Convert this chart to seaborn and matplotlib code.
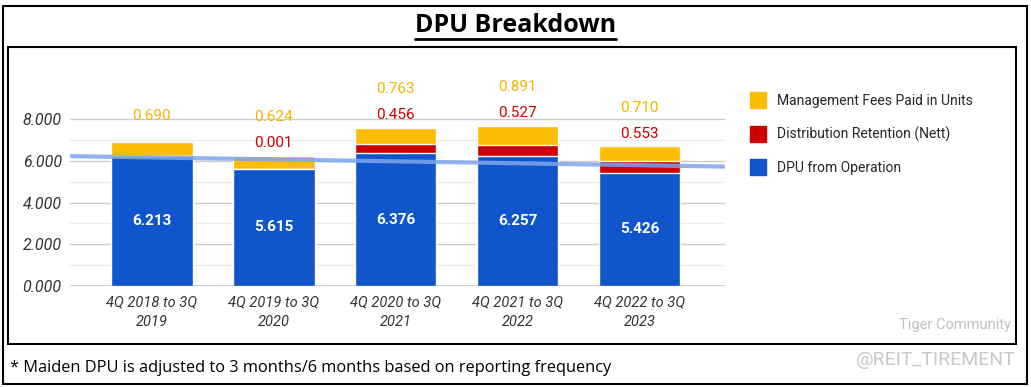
import seaborn as sns
import matplotlib.pyplot as plt
import numpy as np
import pandas as pd
from matplotlib.patches import Rectangle
from matplotlib.lines import Line2D

# values
periods = ["4Q 2018 to 3Q\n2019", "4Q 2019 to 3Q\n2020", "4Q 2020 to 3Q\n2021",
           "4Q 2021 to 3Q\n2022", "4Q 2022 to 3Q\n2023"]
dpu_operation = [6.213, 5.615, 6.376, 6.257, 5.426]
dist_retention = [0.0, 0.001, 0.456, 0.527, 0.553]
mgmt_fees = [0.690, 0.624, 0.763, 0.891, 0.710]

BLUE = "#1155cc"
RED = "#cc0000"
YELLOW = "#fbbc04"

sns.set_style("white")
plt.rcParams["font.family"] = ["Roboto", "DejaVu Sans"]

df = pd.DataFrame({"period": periods, "op": dpu_operation,
                   "ret": dist_retention, "fee": mgmt_fees})
df["op_ret"] = df["op"] + df["ret"]
df["total"] = df["op_ret"] + df["fee"]

fig = plt.figure(figsize=(10.31, 3.87), dpi=100)
ax = fig.add_axes([0.068, 0.261, 0.635, 0.568])

w = 0.67
sns.barplot(data=df, x="period", y="total", color=YELLOW, saturation=1, width=w, ax=ax, zorder=3)
sns.barplot(data=df, x="period", y="op_ret", color=RED, saturation=1, width=w, ax=ax, zorder=3)
sns.barplot(data=df, x="period", y="op", color=BLUE, saturation=1, width=w, ax=ax, zorder=3)

# trend line of the operating DPU
ax.set_xlim(-0.67, 4.7)
xs = np.arange(len(periods))
k, b = np.polyfit(xs, dpu_operation, 1)
xl = np.array(ax.get_xlim())
ax.plot(xl, k * xl + b, color="#7ea6ee", lw=3, alpha=0.85, zorder=4, solid_capstyle="butt")

ax.set_ylim(0, 10.54)
ax.set_yticks([0, 2, 4, 6, 8])
ax.set_yticks([1, 3, 5, 7], minor=True)
ax.set_yticklabels([f"{v:.3f}" for v in [0, 2, 4, 6, 8]], fontstyle="italic",
                   fontsize=11.5, color="#333333")
ax.grid(axis="y", which="major", color="#cccccc", lw=1, zorder=0)
ax.grid(axis="y", which="minor", color="#ececec", lw=1, zorder=0)
ax.tick_params(axis="y", length=0, pad=6)
ax.tick_params(axis="x", length=0, pad=7)
for lab in ax.get_xticklabels():
    lab.set_fontstyle("italic")
    lab.set_fontsize(10.5)
    lab.set_color("#333333")
    lab.set_linespacing(1.45)
ax.set_xlabel("")
ax.set_ylabel("")
ax.axhline(0, color="#333333", lw=1, zorder=5)
sns.despine(ax=ax, left=True, bottom=True)

# value labels
for i in range(len(periods)):
    ax.text(i, dpu_operation[i] / 2, f"{dpu_operation[i]:.3f}", ha="center", va="center",
            color="white", fontsize=11, fontweight="bold", zorder=6)
    top = df["total"][i]
    if dist_retention[i] > 0:
        ax.annotate(f"{dist_retention[i]:.3f}", (i, top), xytext=(0, 9),
                    textcoords="offset points", ha="center", va="center",
                    color=RED, fontsize=11, zorder=6)
        yoff = 28
    else:
        yoff = 19
    ax.annotate(f"{mgmt_fees[i]:.3f}", (i, top), xytext=(0, yoff),
                textcoords="offset points", ha="center", va="center",
                color="#f4b400", fontsize=11, zorder=6)

# legend
handles = [Line2D([], [], ls="", marker="s", markersize=12, color=c)
           for c in [YELLOW, RED, BLUE]]
fig.legend(handles, ["Management Fees Paid in Units", "Distribution Retention (Nett)",
                     "DPU from Operation"],
           loc="upper left", bbox_to_anchor=(0.715, 0.79), frameon=False,
           fontsize=10, labelspacing=1.35, handletextpad=0.75, handlelength=1.2)

# title, boxes and notes
t = fig.text(0.5, 0.935, "DPU Breakdown", ha="center", va="center", fontsize=18,
             fontweight="bold", family=["Open Sans", "DejaVu Sans"], color="black")
fig.canvas.draw()
bb = t.get_window_extent().transformed(fig.transFigure.inverted())
fig.add_artist(Line2D([bb.x0, bb.x1], [bb.y0 - 0.004, bb.y0 - 0.004],
                      color="black", lw=2))

fig.add_artist(Rectangle((3 / 1031, 3 / 387), 1024 / 1031, 378 / 387,
                         transform=fig.transFigure, fill=False, ec="black", lw=1.5))
fig.add_artist(Rectangle((8 / 1031, 43 / 387), 1008 / 1031, 297 / 387,
                         transform=fig.transFigure, fill=False, ec="black", lw=1.5))

fig.text(10 / 1031, 1 - 368 / 387, "* Maiden DPU is adjusted to 3 months/6 months based on reporting frequency",
         ha="left", va="center", fontsize=11.8, family=["Open Sans", "DejaVu Sans"],
         color="black")

fig.text(955 / 1031, 1 - 325 / 387, "Tiger Community", ha="center", va="center",
         fontsize=10.5, color="#c0c0c0")
fig.text(936 / 1031, 1 - 360 / 387, "@REIT_TIREMENT", ha="center", va="center",
         fontsize=14, color="#c8c8c8")

fig.savefig("out.png", dpi=100)
